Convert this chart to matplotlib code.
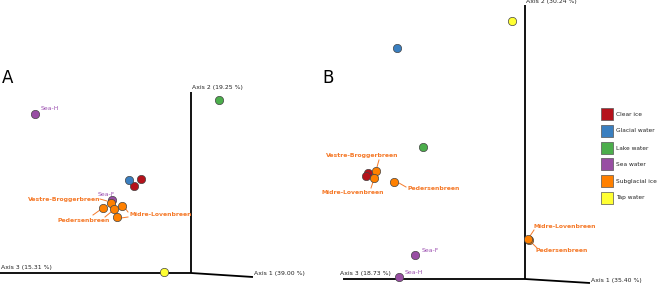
import matplotlib.pyplot as plt

# colours per sample type
groups = ['Clear ice', 'Glacial water', 'Lake water', 'Sea water', 'Subglacial ice', 'Tap water']
colors = ['#b5121b', '#3a7fc0', '#4cae4c', '#984ea3', '#ff8000', '#ffff33']

# panel A ordination points (projected positions)
a_x = {'Clear ice': [141, 134], 'Glacial water': [129], 'Lake water': [219],
       'Sea water': [35, 112], 'Subglacial ice': [103, 111, 114, 122, 117], 'Tap water': [164]}
a_y = {'Clear ice': [179, 186], 'Glacial water': [180], 'Lake water': [100],
       'Sea water': [114, 200], 'Subglacial ice': [208, 203, 209, 206, 217], 'Tap water': [272]}

# panel B ordination points
b_x = {'Clear ice': [368, 366], 'Glacial water': [397], 'Lake water': [423],
       'Sea water': [415, 399], 'Subglacial ice': [376, 374, 394, 529, 528], 'Tap water': [512]}
b_y = {'Clear ice': [173, 176], 'Glacial water': [48], 'Lake water': [147],
       'Sea water': [255, 277], 'Subglacial ice': [171, 178, 182, 240, 239], 'Tap water': [21]}

# biplot axes: (x0, y0, x1, y1, label, label_x, label_y)
axes_A = [(191, 92, 191, 273, 'Axis 2 (19.25 %)', 192, 90),
          (0, 273, 191, 273, 'Axis 3 (15.31 %)', 1, 270),
          (191, 273, 253, 277, 'Axis 1 (39.00 %)', 254, 276)]
axes_B = [(525, 5, 525, 279, 'Axis 2 (30.24 %)', 526, 4),
          (343, 279, 525, 279, 'Axis 3 (18.73 %)', 340, 276),
          (525, 279, 590, 283, 'Axis 1 (35.40 %)', 591, 283)]

# sample labels: text, x, y, ha, colour key, leader lines
labels = [
    ('Sea-H', 41, 108, 'left', 'sea', []),
    ('Sea-F', 98, 194, 'left', 'sea', []),
    ('Vestre-Broggerbreen', 100, 199, 'right', 'glac', [(100, 199, 107, 201)]),
    ('Pedersenbreen', 58, 220, 'left', 'glac', [(93, 215, 100, 210), (105, 217, 111, 212)]),
    ('Midre-Lovenbreen', 129, 215, 'left', 'glac', [(128, 212, 125, 208), (128, 217, 121, 218)]),
    ('Vestre-Broggerbreen', 362, 156, 'center', 'glac', [(379, 160, 377, 167)]),
    ('Midre-Lovenbreen', 353, 192, 'center', 'glac', [(371, 188, 373, 182)]),
    ('Pedersenbreen', 407, 188, 'left', 'glac', [(399, 183, 406, 187)]),
    ('Midre-Lovenbreen', 534, 227, 'left', 'glac', [(534, 230, 530, 236)]),
    ('Pedersenbreen', 535, 250, 'left', 'glac', [(533, 244, 537, 248)]),
    ('Sea-F', 422, 250, 'left', 'sea', []),
    ('Sea-H', 405, 272, 'left', 'sea', []),
]

fig = plt.figure(figsize=(6.58, 2.86), dpi=100)
ax = fig.add_axes([0, 0, 1, 1])
ax.set_xlim(0, 658)
ax.set_ylim(286, 0)
ax.axis('off')

for axlist in (axes_A, axes_B):
    for x0, y0, x1, y1, lab, lx, ly in axlist:
        ax.plot([x0, x1], [y0, y1], color='black', lw=1.3, solid_capstyle='butt')
        ax.text(lx, ly, lab, fontsize=4.4, color='#222222', ha='left', va='bottom')

for xs, ys in ((a_x, a_y), (b_x, b_y)):
    for g, c in zip(groups, colors):
        ax.scatter(xs[g], ys[g], s=36, color=c, edgecolors='#444444', linewidths=0.5, zorder=3)

lab_col = {'glac': '#f57a2a', 'sea': '#9c4fb0'}
for txt, x, y, ha, key, leaders in labels:
    ax.text(x, y, txt, fontsize=4.4, color=lab_col[key], ha=ha, va='center',
            fontweight='bold' if key == 'glac' else 'normal', zorder=4)
    for x0, y0, x1, y1 in leaders:
        ax.plot([x0, x1], [y0, y1], color=lab_col[key], lw=0.7, zorder=2)

ax.text(2, 78, 'A', fontsize=12, va='center', ha='left')
ax.text(322, 78, 'B', fontsize=12, va='center', ha='left')

# legend
leg_y = [114, 131, 148, 164, 181, 198]
for g, c, ly in zip(groups, colors, leg_y):
    ax.scatter([607], [ly], s=70, marker='s', color=c, edgecolors='#555555', linewidths=0.5)
    ax.text(616, ly, g, fontsize=4.2, color='#222222', ha='left', va='center')

fig.savefig('out.png', dpi=100)
